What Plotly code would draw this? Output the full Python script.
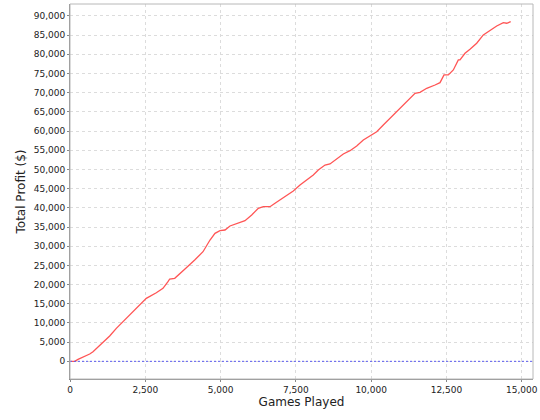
import plotly.graph_objects as go

games = [0, 156, 266, 488, 654, 764, 930, 1096, 1318, 1538, 1760, 2036, 2258, 2534,
         2866, 3088, 3254, 3311, 3477, 3643, 3809, 4141, 4417, 4649, 4815, 4981,
         5147, 5313, 5479, 5645, 5811, 6034, 6253, 6419, 6642, 6808, 6974, 7196,
         7415, 7638, 7860, 8079, 8245, 8468, 8634, 8910, 9076, 9298, 9521, 9740,
         9962, 10185, 10404, 10627, 10849, 11068, 11234, 11457, 11623, 11845,
         12121, 12287, 12420, 12563, 12729, 12895, 12951, 13117, 13283, 13505,
         13725, 13947, 14170, 14389, 14502, 14635]
profit = [0, 0, 521, 1199, 1902, 2502, 3805, 5108, 6593, 8600, 10320, 12509, 14411,
          16418, 17877, 19024, 20744, 21448, 21630, 22933, 23976, 26399, 28562,
          31610, 33357, 34035, 34217, 35260, 35781, 36120, 36641, 38127, 39872,
          40289, 40289, 41175, 42035, 43338, 44380, 45944, 47247, 48550, 49853,
          51156, 51416, 52902, 54022, 54882, 56107, 57670, 58713, 59833, 61579,
          63325, 65045, 66791, 68094, 69840, 70101, 71143, 72003, 72603, 74609,
          74609, 75912, 78518, 78518, 80264, 81306, 82870, 85033, 86153, 87378,
          88238, 88082, 88499]

x_ticks = [0, 2500, 5000, 7500, 10000, 12500, 15000]
y_ticks = list(range(0, 90001, 5000))

fig = go.Figure()
fig.add_trace(go.Scatter(x=games, y=profit, mode="lines",
                         line=dict(color="#FF5555", width=1.3),
                         showlegend=False, hoverinfo="skip"))

fig.add_shape(type="line", xref="paper", yref="y", x0=0, x1=1, y0=0, y1=0,
              line=dict(color="#5C5CF0", width=1, dash="2px,2px"), layer="above")
fig.add_shape(type="rect", xref="paper", yref="paper", x0=0, x1=1, y0=0, y1=1,
              line=dict(color="#b8b8b8", width=1), layer="above")

axis_font = dict(family="DejaVu Sans", size=9, color="#222222")
fig.update_layout(
    width=540, height=420,
    margin=dict(l=70, r=7, t=4, b=41),
    paper_bgcolor="white", plot_bgcolor="white",
    font=dict(family="DejaVu Sans", size=12, color="#222222"),
    xaxis=dict(range=[0, 15375], tickvals=x_ticks,
               ticktext=[f"{v:,}" for v in x_ticks],
               showgrid=True, gridcolor="#dcdcdc", griddash="3px,3px", gridwidth=1,
               zeroline=False, showline=True, linecolor="#888888", linewidth=1,
               ticks="outside", ticklen=2, tickcolor="#888888",
               tickfont=axis_font, automargin=False,
               title=dict(text="Games Played", font=dict(size=12), standoff=3)),
    yaxis=dict(range=[-4600, 93100], tickvals=y_ticks,
               ticktext=[f"{v:,}" for v in y_ticks],
               showgrid=True, gridcolor="#dcdcdc", griddash="3px,3px", gridwidth=1,
               zeroline=False, showline=True, linecolor="#888888", linewidth=1,
               ticks="outside", ticklen=2, tickcolor="#888888",
               tickfont=axis_font, automargin=False,
               title=dict(text="Total Profit ($)", font=dict(size=12), standoff=5)),
)

fig.write_html("out.html", config={"displayModeBar": False},
               post_script="document.body.style.margin='0';document.body.style.overflow='hidden';")
